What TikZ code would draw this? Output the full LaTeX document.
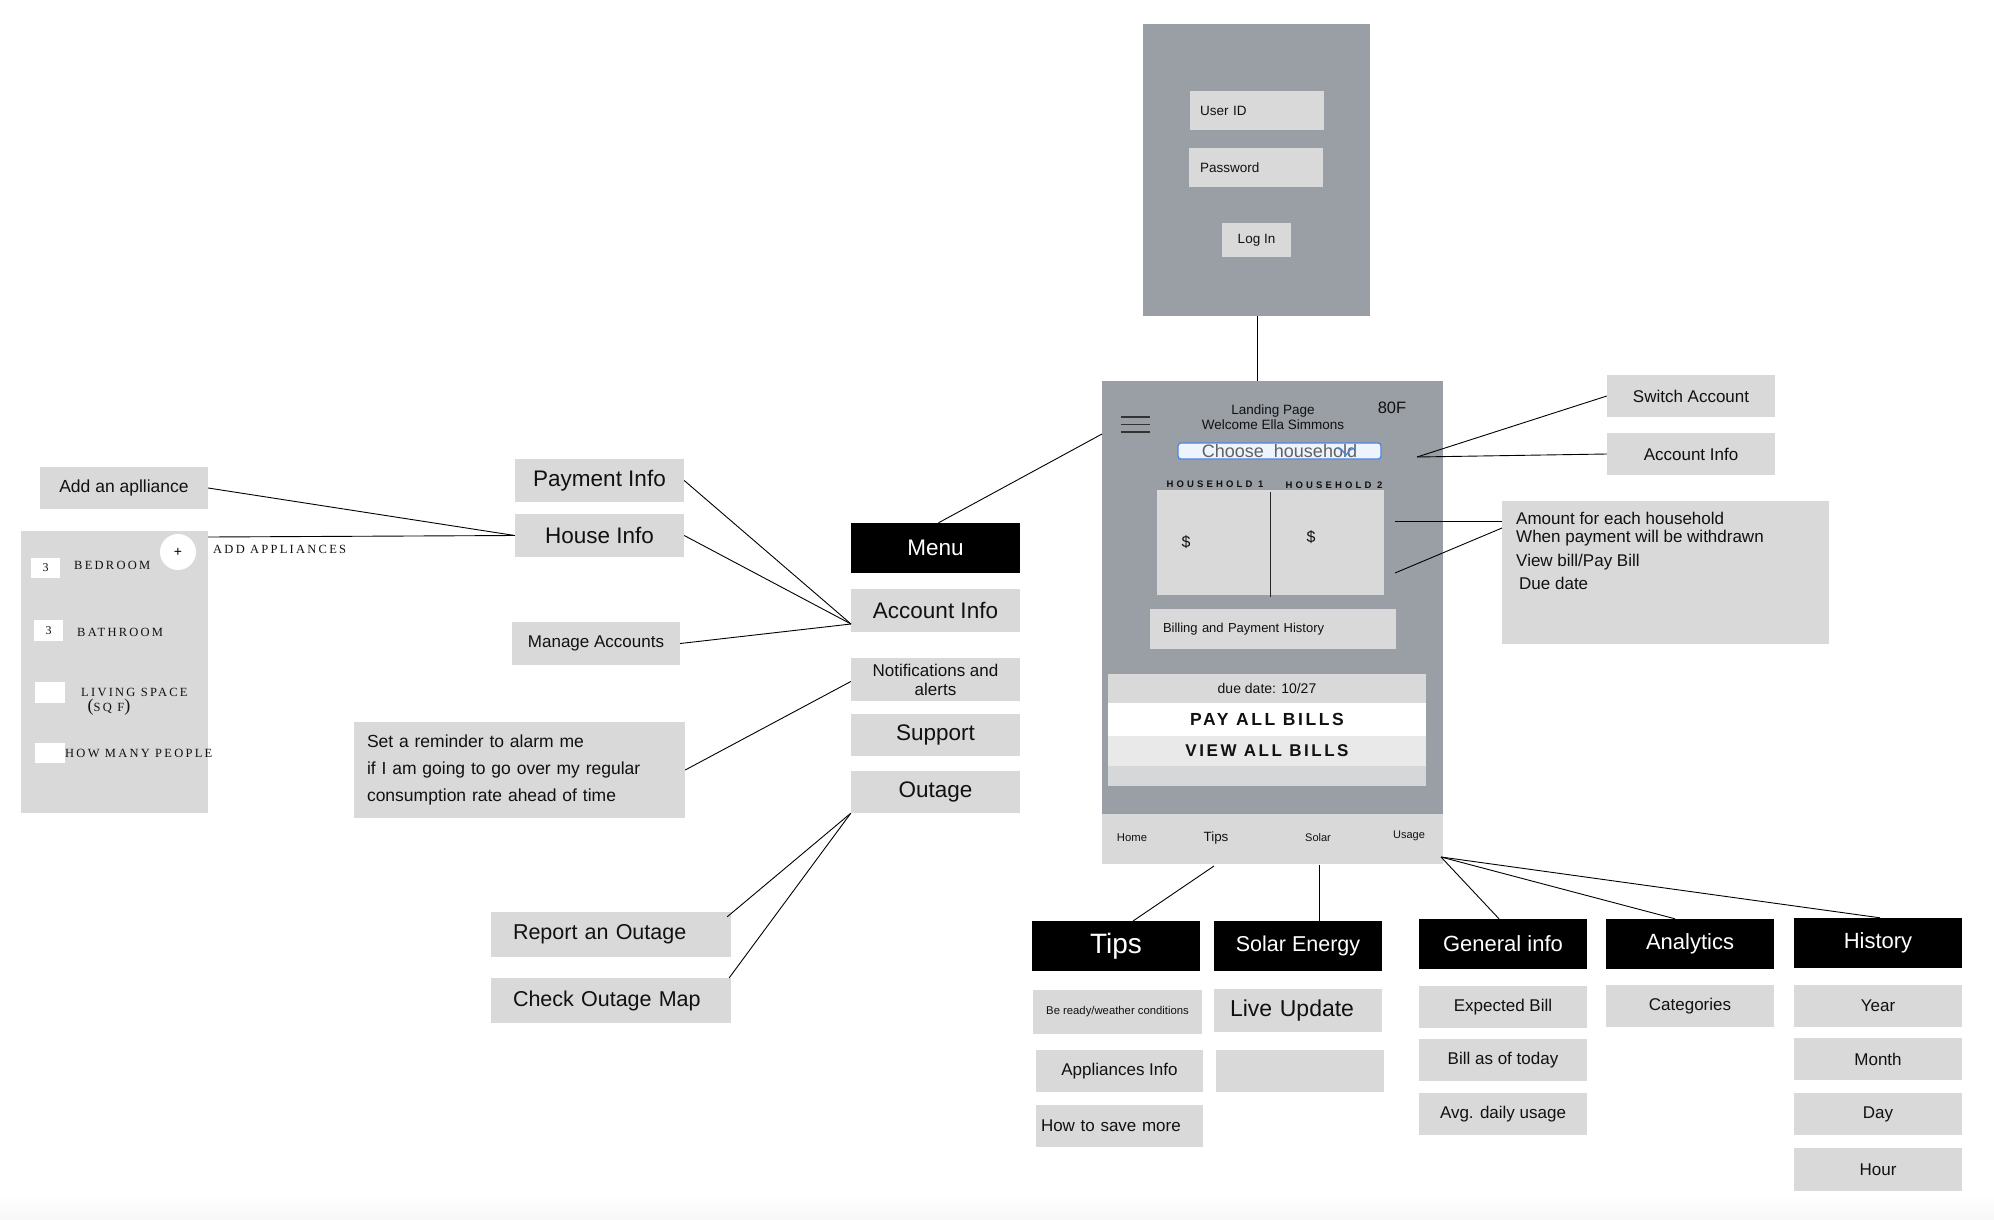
\documentclass[tikz,border=0pt]{standalone}
\usepackage{fontspec}
\setmainfont{Liberation Sans}
\newfontfamily\scfont{Liberation Serif}[LetterSpace=18]
\newfontfamily\plainserif{Liberation Serif}
\newfontfamily\trackA{Liberation Sans}[LetterSpace=33]
\newfontfamily\trackB{Liberation Sans}[LetterSpace=15]
\definecolor{panelgray}{HTML}{9A9FA5}
\definecolor{boxgray}{HTML}{D9D9D9}
\definecolor{bandgray}{HTML}{E9E9E9}
\definecolor{billgray}{HTML}{D6D7D9}
\definecolor{uiblue}{HTML}{4A86E8}
\definecolor{choosefill}{HTML}{EEF3FC}
\definecolor{txt}{HTML}{111111}
\newcommand{\fsz}[1]{\fontsize{#1}{#1}\selectfont}
\begin{document}
\begin{tikzpicture}[x=1pt,y=-1pt,
  sz/.style 2 args={minimum width=#1pt, minimum height=#2pt},
  box/.style={fill=boxgray, inner sep=0pt, text=txt},
  blk/.style={fill=black, inner sep=0pt, text=white},
  wbox/.style={fill=white, inner sep=0pt, text=txt},
  conn/.style={line width=0.9pt, black},
  lbl/.style={inner sep=0pt, text=txt}
]
\useasboundingbox (0,0) rectangle (1994,1220);
\fill[white] (0,0) rectangle (1994,1220);
\shade[top color=white, bottom color=black!3] (0,1195) rectangle (1994,1220);

% ---------- Login ----------
\node[fill=panelgray, sz={227}{292}] (login) at (1256.5,170) {};
\node[box, sz={134}{39}, inner xsep=10pt, text width=114pt, align=left, font=\fsz{13.5}] (uid) at (1257,110.5) {User ID};
\node[box, sz={134}{39}, inner xsep=11pt, text width=112pt, align=left, font=\fsz{13.5}] (pwd) at (1256,167.5) {Password};
\node[box, sz={69}{34}, font=\fsz{13.5}] (loginbtn) at (1256.5,240) {Log In};

% ---------- Landing page ----------
\node[fill=panelgray, sz={341}{433}, inner sep=0pt] (landing) at (1272.5,597.5) {};
\node[box, sz={341}{50}] (nav) at (1272.5,839) {};
\draw[line width=1.3pt, black!80] (1121,417) -- (1150,417) (1121,424.5) -- (1150,424.5) (1121,432) -- (1150,432);
\node[lbl, font=\fsz{13.5}, align=center] (welcome) at (1273,417) {Landing Page\\[1pt]Welcome Ella Simmons};
\node[lbl, font=\fsz{16.5}] (temp) at (1392,408) {80F};
\node[fill=choosefill, draw=uiblue, line width=1.2pt, rounded corners=3pt, sz={203}{16}, inner sep=0pt, text=black!62, font=\fsz{18}] (choose) at (1279.5,451) {Choose\ \ household};
\draw[uiblue, line width=1.3pt] (1337,448) -- (1342,450) -- (1346,455) -- (1350,450) -- (1355,448);
\node[lbl, font=\trackA\bfseries\fsz{9.5}] (hh1) at (1215,484) {HOUSEHOLD 1};
\node[lbl, font=\trackA\bfseries\fsz{9.5}] (hh2) at (1334,485) {HOUSEHOLD 2};
\node[box, sz={227}{105}] (hh) at (1270.5,542.5) {};
\draw[line width=1.2pt, black!85] ([yshift=-2pt]hh.north) -- ([yshift=-2pt]hh.south);
\node[lbl, font=\fsz{16}] (d1) at (1186,542) {\$};
\node[lbl, font=\fsz{16}] (d2) at (1311,537) {\$};
\node[box, sz={246}{40}, inner xsep=13pt, text width=220pt, align=left, font=\fsz{13}] (billing) at (1273,629) {Billing and Payment History};
\node[fill=billgray, sz={318}{112}, inner sep=0pt] (bills) at (1267,730) {};
\node[fill=boxgray, sz={318}{29}, inner sep=0pt, font=\fsz{14}, text=txt] (due) at (1267,688.5) {due date: 10/27};
\node[wbox, sz={318}{33}, font=\trackB\bfseries\fsz{17.5}] (pay) at (1267,719.5) {PAY ALL BILLS};
\node[fill=bandgray, sz={318}{30}, inner sep=0pt, font=\trackB\bfseries\fsz{17}, text=txt] (view) at (1267,751) {VIEW ALL BILLS};
\node[lbl, font=\fsz{11.3}] (home) at (1132,838) {Home};
\node[lbl, font=\fsz{13.4}] (navtips) at (1216,838) {Tips};
\node[lbl, font=\fsz{11}] (navsolar) at (1318,838) {Solar};
\node[lbl, font=\fsz{11}] (navusage) at (1409,836) {Usage};

% ---------- right side ----------
\node[box, sz={168}{42}, font=\fsz{17}] (switch) at (1691,396) {Switch Account};
\node[box, sz={168}{42}, font=\fsz{17}] (acctR) at (1691,454) {Account Info};
\node[box, sz={327}{143}] (amount) at (1665.5,572.5) {};
\node[lbl, anchor=west, font=\fsz{17}] (am1) at (1516,518) {Amount for each household};
\node[lbl, anchor=west, font=\fsz{17}] (am2) at (1516,538) {When payment will be withdrawn};
\node[lbl, anchor=west, font=\fsz{17}] (am3) at (1516,562) {View bill/Pay Bill};
\node[lbl, anchor=west, font=\fsz{17}] (am4) at (1519,583) {Due date};

% ---------- menu column ----------
\node[blk, sz={169}{50}, font=\fsz{22.5}] (menu) at (935.5,548) {Menu};
\node[box, sz={169}{43}, font=\fsz{22.5}] (acctL) at (935.5,610.5) {Account Info};
\node[box, sz={169}{43}, font=\fsz{17}, align=center] (notif) at (935.5,679.5) {Notifications and\\[2pt]alerts};
\node[box, sz={169}{42}, font=\fsz{22.5}] (support) at (935.5,735) {Support};
\node[box, sz={169}{42}, font=\fsz{22.5}] (outage) at (935.5,792) {Outage};

% ---------- account info children ----------
\node[box, sz={169}{43}, font=\fsz{22.5}] (payment) at (599.5,480.5) {Payment Info};
\node[box, sz={169}{43}, font=\fsz{22.5}] (house) at (599.5,535.5) {House Info};
\node[box, sz={168}{43}, font=\fsz{17}] (manage) at (596,643.5) {Manage Accounts};
\node[box, sz={331}{96}, inner xsep=13pt, text width=305pt, align=left, font=\fsz{17.5}] (reminder) at (519.5,770) {Set a reminder to alarm me\\[9.5pt]if I am going to go over my regular\\[9.5pt]consumption rate ahead of time};
\node[box, sz={240}{45}, inner xsep=22pt, text width=196pt, align=left, font=\fsz{21.5}] (report) at (611,934.5) {Report an Outage};
\node[box, sz={240}{45}, inner xsep=22pt, text width=196pt, align=left, font=\fsz{21.5}] (check) at (611,1000.5) {Check Outage Map};

% ---------- house info panel ----------
\node[box, sz={168}{42}, font=\fsz{17.5}] (addapp) at (124,488) {Add an aplliance};
\node[box, sz={187}{282}] (hpanel) at (114.5,672) {};
\node[circle, fill=white, minimum size=36pt, inner sep=0pt, font=\fsz{14}] (plus) at (178,552) {+};
\node[wbox, sz={29}{20}, font=\plainserif\fsz{12}] (bedn) at (45.5,568) {3};
\node[wbox, sz={29}{21}, font=\plainserif\fsz{12}] (bathn) at (48.5,630.5) {3};
\node[wbox, sz={30}{21}] (livn) at (50,692.5) {};
\node[wbox, sz={30}{20}] (peopn) at (50,753) {};
\node[lbl, anchor=west, font=\scfont\fsz{12.5}] (bed) at (74,565) {BEDROOM};
\node[lbl, anchor=west, font=\scfont\fsz{12.5}] (bath) at (77,632) {BATHROOM};
\node[lbl, anchor=west, font=\scfont\fsz{12.5}] (liv) at (81,692) {LIVING SPACE};
\node[lbl, font=\scfont\fsz{12.5}] (sqf) at (109,707) {{\fsz{18}(}SQ F{\fsz{18})}};
\node[lbl, anchor=west, font=\scfont\fsz{12.5}] (peop) at (65,753) {HOW MANY PEOPLE};
\node[lbl, anchor=west, font=\scfont\fsz{12.5}] (addapps) at (213,549) {ADD APPLIANCES};

% ---------- bottom tabs ----------
\node[blk, sz={168}{50}, font=\fsz{28}] (tips) at (1116,946) {Tips};
\node[blk, sz={168}{50}, font=\fsz{21.5}] (solar) at (1298,946) {Solar Energy};
\node[blk, sz={168}{50}, font=\fsz{22}] (general) at (1503,944) {General info};
\node[blk, sz={168}{50}, font=\fsz{22}] (analytics) at (1690,944) {Analytics};
\node[blk, sz={168}{50}, font=\fsz{22}] (history) at (1878,943) {History};

\node[box, sz={169}{44}, font=\fsz{11.3}] (beready) at (1117.5,1012) {Be ready/weather conditions};
\node[box, sz={167}{42}, font=\fsz{17}] (appl) at (1119.5,1071) {Appliances Info};
\node[box, sz={167}{42}, inner xsep=5pt, text width=157pt, align=left, font=\fsz{17}] (howsave) at (1119.5,1126) {How to save more};
\node[box, sz={168}{43}, inner xsep=16pt, text width=136pt, align=left, font=\fsz{23}] (live) at (1298,1010.5) {Live Update};
\node[box, sz={168}{42}] (solarempty) at (1300,1071) {};
\node[box, sz={168}{42}, font=\fsz{17}] (expected) at (1503,1007) {Expected Bill};
\node[box, sz={168}{42}, font=\fsz{17}] (billtoday) at (1503,1060) {Bill as of today};
\node[box, sz={168}{42}, font=\fsz{17}] (avg) at (1503,1114) {Avg. daily usage};
\node[box, sz={168}{42}, font=\fsz{17}] (categories) at (1690,1006) {Categories};
\node[box, sz={168}{42}, font=\fsz{17}] (year) at (1878,1006) {Year};
\node[box, sz={168}{42}, font=\fsz{17}] (month) at (1878,1059) {Month};
\node[box, sz={168}{42}, font=\fsz{17}] (day) at (1878,1114) {Day};
\node[box, sz={168}{43}, font=\fsz{17}] (hour) at (1878,1169.5) {Hour};

% ---------- connector anchor points ----------
\coordinate (mL) at (1102,434);
\coordinate (aiL) at (851,624);
\coordinate (hpR) at (208,537);
\coordinate (chR) at (1417,457);
\coordinate (hA) at (1395,521);
\coordinate (hB) at (1395,573);
\coordinate (amA) at (1502,528);
\coordinate (nTips) at (1214,866);
\coordinate (tipsTop) at (1133,921);
\coordinate (nSolar) at (1319,865);
\coordinate (nUsage) at (1441,857);

% ---------- connectors ----------
\draw[conn] (login.south -| 1257,0) -- (landing.north -| 1257,0);
\draw[conn] ([xshift=3pt]menu.north) -- (mL);
\draw[conn] (payment.east) -- (aiL);
\draw[conn] (house.east) -- (aiL);
\draw[conn] (manage.east) -- (aiL);
\draw[conn] (addapp.east) -- (house.west);
\draw[conn] (hpR) -- (house.west);
\draw[conn] ([yshift=-2pt]notif.west) -- (reminder.east);
\draw[conn] (outage.south west) -- ([xshift=-4pt,yshift=-5pt]report.north east);
\draw[conn] (outage.south west) -- ([xshift=-2pt]check.north east);
\draw[conn] (chR) -- (switch.west);
\draw[conn] (chR) -- (acctR.west);
\draw[conn] (hA) -- (hA -| amount.west);
\draw[conn] (hB) -- (amA);
\draw[conn] (nTips) -- (tipsTop);
\draw[conn] (nSolar) -- (nSolar |- solar.north);
\draw[conn] (nUsage) -- ([xshift=-4pt]general.north);
\draw[conn] (nUsage) -- ([xshift=-15pt]analytics.north);
\draw[conn] (nUsage) -- ([xshift=2pt]history.north);
\end{tikzpicture}
\end{document}
